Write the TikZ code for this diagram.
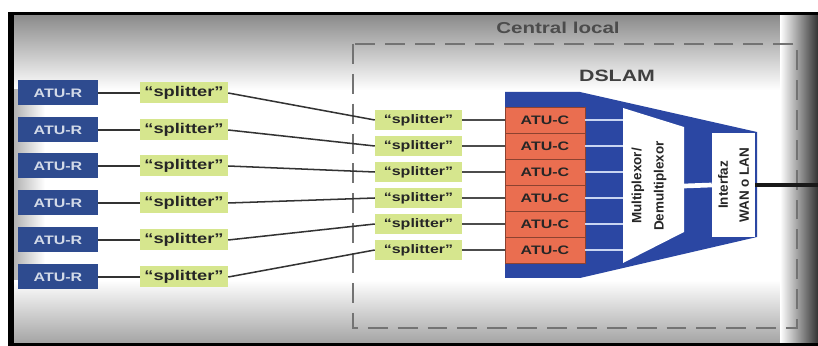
\documentclass[tikz,border=0pt]{standalone}
\usepackage{fontspec}
\setmainfont{Liberation Sans}
\newfontfamily\widefont[FakeStretch=1.3]{Liberation Sans}
\usepackage{tikz}
\usetikzlibrary{positioning}
\definecolor{aturblue}{HTML}{2E4B8F}
\definecolor{aturtext}{HTML}{D3DAE8}
\definecolor{splgreen}{HTML}{D6E68E}
\definecolor{atucred}{HTML}{EA6E50}
\definecolor{dslamblue}{HTML}{2B47A3}
\definecolor{chanline}{HTML}{C9D5F2}
\newcommand{\pxu}{0.03cm}

\begin{document}
\begin{tikzpicture}[x=0.03cm,y=-0.03cm,
  atur/.style={fill=aturblue,text=aturtext,inner sep=0pt,minimum width=80*\pxu,minimum height=25*\pxu,
    font=\widefont\bfseries\fontsize{10.5}{12}\selectfont},
  splo/.style={fill=splgreen,text=black!85,inner sep=0pt,minimum width=88*\pxu,minimum height=21*\pxu,
    font=\widefont\bfseries\fontsize{12}{14}\selectfont},
  spli/.style={splo,minimum width=87*\pxu,minimum height=20*\pxu,font=\widefont\bfseries\fontsize{10.5}{12}\selectfont},
  atuc/.style={fill=atucred,draw=atucred!60!black,line width=0.5pt,text=black!85,inner sep=0pt,
    minimum width=80*\pxu,minimum height=26*\pxu,font=\widefont\bfseries\fontsize{10.5}{12}\selectfont},
  wire/.style={draw=black!80,line width=1.3pt},
  chan/.style={draw=chanline,line width=1.6pt},
  vtext/.style={rotate=90,align=center,text=black!85,font=\bfseries\fontsize{11.5}{19}\selectfont}]
  \useasboundingbox (0,0) rectangle (818,346);
  % frame and shaded background
  \fill[black] (8,12) rectangle (818,346);
  \fill[white] (14,16) rectangle (818,342);
  \shade[top color=black!45,bottom color=white] (14,16) rectangle (818,90);
  \shade[top color=white,bottom color=black!35] (14,280) rectangle (818,342);
  \shade[left color=black!30,right color=white] (14,90) rectangle (45,280);
  \shade[left color=white,right color=black!80] (780,16) rectangle (818,342);
  % central office
  \draw[black!55,line width=1.7pt,dash pattern=on 17pt off 8.5pt] (353,44) rectangle (797,328);
  \node[font=\widefont\bfseries\fontsize{13.5}{15}\selectfont,text=black!70] (central) at (558,28) {Central local};
  \node[font=\widefont\bfseries\fontsize{14}{16}\selectfont,text=black!75] (dslam) at (617,76) {DSLAM};
  % DSLAM body
  \fill[dslamblue] (505,92) -- (580,92) -- (757,132) -- (757,237) -- (580,278) -- (505,278) -- cycle;
  \fill[white] (623,108) -- (684,127) -- (684,232) -- (623,263) -- cycle;
  \coordinate (muxl) at (623,185);
  \coordinate (muxr) at (684,186);
  \node[vtext] (mux) at (649,186) {Multiplexor/\\Demultiplexor};
  \node[fill=white,inner sep=0pt,minimum width=104*\pxu,minimum height=43*\pxu,rotate=90,
    align=center,text=black!85,font=\bfseries\fontsize{11.5}{18}\selectfont] (wan) at (733.5,185) {Interfaz\\WAN o LAN};
  \coordinate (out) at (818,185);
  \draw[white,line width=4pt] (muxr) -- (wan.north);
  \draw[black!90,line width=2.6pt] (wan.south) -- (out);
  % subscriber side
  \foreach \y [count=\i] in {93,130,166,203,240,277} {
    \node[atur] (r\i) at (58,\y) {ATU-R};
    \node[splo] (so\i) at (184,\y) {“splitter”};
    \draw[wire] (r\i) -- (so\i);
  }
  % office side
  \foreach \i in {1,...,6} {
    \pgfmathsetmacro\yc{94+26*\i}
    \node[spli] (si\i) at (418.5,\yc) {“splitter”};
    \node[atuc] (c\i) at (545,\yc) {ATU-C};
    \draw[wire] (so\i.east) -- (si\i.west);
    \draw[wire,draw=black!70] (si\i) -- (c\i);
    \draw[chan] (c\i.east) -- (c\i.east -| muxl);
  }
\end{tikzpicture}
\end{document}
